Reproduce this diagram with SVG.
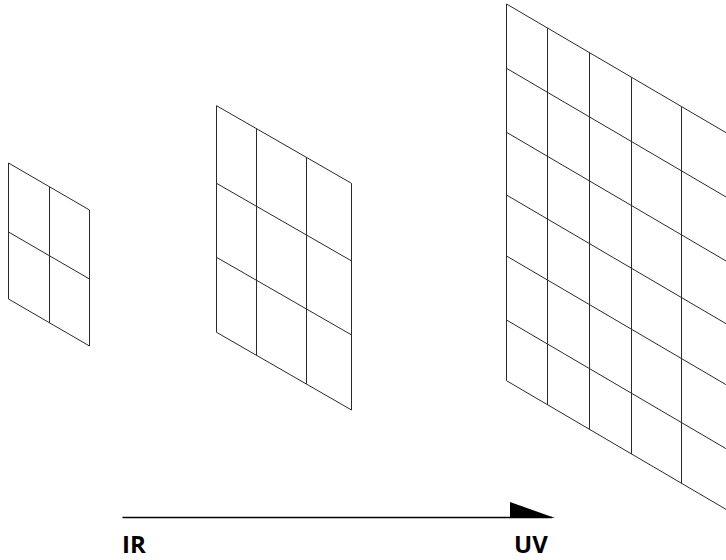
<svg xmlns="http://www.w3.org/2000/svg" width="726" height="560" viewBox="0 0 726 560">
  <style>
    .grid line, .grid polygon { stroke: #2a2a2a; stroke-width: 1; fill: none; }
    .label { font-family: "Open Sans", "Liberation Sans", sans-serif; font-weight: 700; font-size: 24px; fill: #000; }
  </style>
  <rect width="726" height="560" fill="#fff"/>
  <g id="grid-small" class="grid">
    <polygon points="8.5,163 89.5,210 89.5,346 8.5,299"/>
    <line x1="49.5" y1="186.8" x2="49.5" y2="322.8"/>
    <line x1="8.5" y1="232" x2="89.5" y2="279"/>
  </g>
  <g id="grid-medium" class="grid">
    <polygon points="216.5,105.7 351.5,183.3 351.5,410 216.5,332.3"/>
    <line x1="256.5" y1="128.6" x2="256.5" y2="355.2"/>
    <line x1="306.5" y1="157.3" x2="306.5" y2="383.9"/>
    <line x1="216.5" y1="183.3" x2="351.5" y2="260.9"/>
    <line x1="216.5" y1="257.3" x2="351.5" y2="334.9"/>
  </g>
  <g id="grid-large" class="grid">
    <line x1="506.5" y1="4" x2="506.5" y2="380.7"/>
    <line x1="547.5" y1="28.2" x2="547.5" y2="404.9"/>
    <line x1="589.5" y1="52.7" x2="589.5" y2="429.4"/>
    <line x1="631.5" y1="77.3" x2="631.5" y2="454"/>
    <line x1="681.5" y1="106.7" x2="681.5" y2="483.4"/>
    <line x1="506.5" y1="4" x2="730" y2="135"/>
    <line x1="506.5" y1="68.3" x2="730" y2="199.3"/>
    <line x1="506.5" y1="132.3" x2="730" y2="263.3"/>
    <line x1="506.5" y1="195" x2="730" y2="326"/>
    <line x1="506.5" y1="256" x2="730" y2="387"/>
    <line x1="506.5" y1="320" x2="730" y2="451"/>
    <line x1="506.5" y1="380.7" x2="730" y2="511.7"/>
  </g>
  <g id="connectors">
    <line x1="122.5" y1="517.5" x2="552" y2="517.5" stroke="#000" stroke-width="1.5"/>
    <polygon points="510,502 555,518 510,518" fill="#000"/>
  </g>
  <g id="label-ir"><text class="label" x="122" y="553">IR</text></g>
  <g id="label-uv"><text class="label" x="514" y="553">UV</text></g>
</svg>
